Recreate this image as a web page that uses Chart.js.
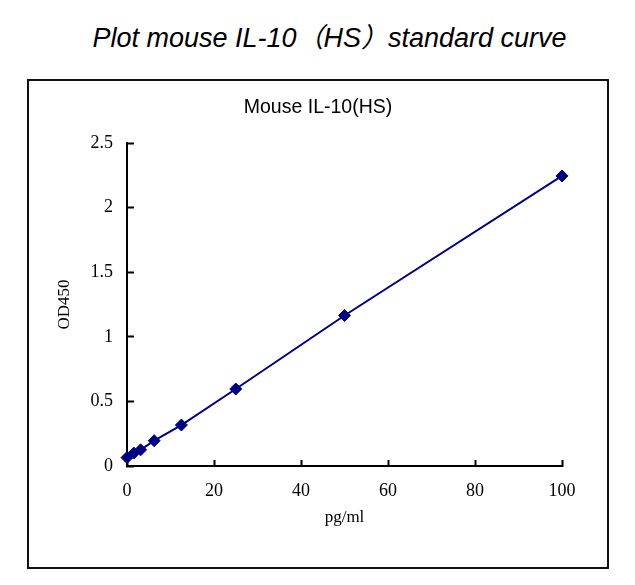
<!DOCTYPE html>
<html>
<head>
<meta charset="utf-8">
<script src="https://cdn.jsdelivr.net/npm/chart.js@4"></script>
<style>
html,body{margin:0;padding:0;background:#fff;width:635px;height:585px;overflow:hidden;}
#title{position:absolute;left:0;top:22px;width:659px;text-align:center;font:italic 27px "Liberation Sans","Noto Sans CJK SC",sans-serif;color:#000;line-height:32px;white-space:nowrap;}
#box{position:absolute;left:27px;top:79px;width:582px;height:490px;border:2px solid #111;box-sizing:border-box;}
#c{position:absolute;left:0;top:0;}
</style>
</head>
<body>
<div id="title">Plot mouse IL-10（HS）standard curve</div>
<div id="box"><canvas id="c" width="578" height="486"></canvas></div>
<script>
const concentrations = [0, 1.5625, 3.125, 6.25, 12.5, 25, 50, 100];
const od450 = [0.065, 0.10, 0.125, 0.196, 0.317, 0.596, 1.165, 2.245];
const xTicks = [0, 20, 40, 60, 80, 100];
const yTicks = [0, 0.5, 1, 1.5, 2, 2.5];
const chartTitle = 'Mouse IL-10(HS)';
const xTitle = 'pg/ml';
const yTitle = 'OD450';

const points = concentrations.map((x, i) => ({x: x, y: od450[i]}));
const serif = '"Liberation Serif", "DejaVu Serif", serif';
const navy = '#000080';

new Chart(document.getElementById('c'), {
  type: 'scatter',
  data: {
    datasets: [{
      data: points,
      showLine: true,
      borderColor: navy,
      borderWidth: 2,
      backgroundColor: navy,
      pointStyle: 'rectRot',
      pointRadius: 6,
      pointBorderWidth: 1,
      pointBorderColor: navy,
      pointBackgroundColor: navy,
      tension: 0,
      clip: false
    }]
  },
  options: {
    responsive: false,
    animation: false,
    events: [],
    layout: {padding: 0},
    plugins: {
      legend: {display: false},
      tooltip: {enabled: false},
      title: {
        display: true,
        text: chartTitle,
        color: '#000',
        font: {family: '"Liberation Sans", Arial, sans-serif', size: 19.5, weight: 'normal'},
        padding: {top: 14.5, bottom: 24.1}
      }
    },
    scales: {
      x: {
        type: 'linear',
        min: 0, max: 100,
        afterFit(s) { s.height = 101; },
        afterBuildTicks(s) { s.ticks = xTicks.map(v => ({value: v})); },
        border: {display: true, color: '#000', width: 2},
        grid: {display: true, drawOnChartArea: false, drawTicks: true, tickLength: -6, tickWidth: 2, tickColor: '#000'},
        ticks: {color: '#000', font: {family: serif, size: 18}, padding: 20, maxRotation: 0, callback: v => String(v)},
        title: {display: true, text: xTitle, color: '#000', font: {family: serif, size: 17}, padding: 38.8}
      },
      y: {
        type: 'linear',
        position: 'left',
        min: 0, max: 2.5,
        afterFit(s) { s.width = 98; },
        afterBuildTicks(s) { s.ticks = yTicks.map(v => ({value: v})); },
        border: {display: true, color: '#000', width: 2},
        grid: {display: true, drawOnChartArea: false, drawTicks: true, tickLength: -7, tickWidth: 2, tickColor: '#000'},
        ticks: {color: '#000', font: {family: serif, size: 18}, padding: 21, callback: v => String(v)},
        title: {display: true, text: yTitle, color: '#000', font: {family: serif, size: 17}, padding: 25.8}
      },
      yRight: {
        type: 'linear',
        position: 'right',
        min: 0, max: 2.5,
        afterFit(s) { s.width = 45; },
        border: {display: false},
        grid: {display: false, drawTicks: false},
        ticks: {display: false},
        title: {display: false}
      }
    }
  }
});
</script>
</body>
</html>
